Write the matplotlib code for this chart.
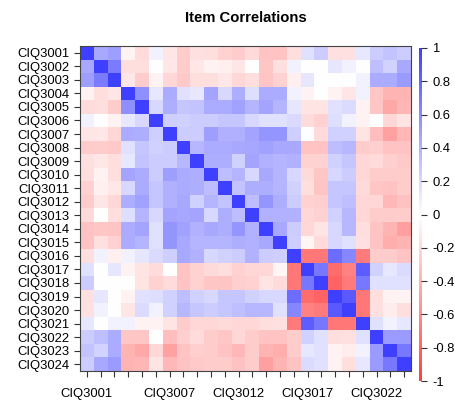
import numpy as np
import matplotlib
matplotlib.use("Agg")
import matplotlib.pyplot as plt
from matplotlib.colors import LinearSegmentedColormap

plt.rcParams["font.family"] = ["Liberation Sans", "DejaVu Sans"]

items = ["CIQ3001", "CIQ3002", "CIQ3003", "CIQ3004", "CIQ3005", "CIQ3006",
         "CIQ3007", "CIQ3008", "CIQ3009", "CIQ3010", "CIQ3011", "CIQ3012",
         "CIQ3013", "CIQ3014", "CIQ3015", "CIQ3016", "CIQ3017", "CIQ3018",
         "CIQ3019", "CIQ3020", "CIQ3021", "CIQ3022", "CIQ3023", "CIQ3024"]

# upper triangle of the correlation matrix: row i holds r(i, j) for j > i
upper_rows = [
    [.45, .50, -.07, -.18, .07, -.13, -.26, -.16, -.17, -.24, -.26, -.19, -.31, -.31, -.17, .16, .26, -.16, -.16, .12, .26, .31, .26],
    [.68, -.17, -.17, .00, -.12, -.26, -.12, -.07, -.08, -.13, .00, -.29, -.16, .07, .00, .00, .13, .07, .00, .33, .23, .45],
    [-.13, -.26, -.07, -.21, -.28, -.17, -.17, -.12, -.21, -.17, -.30, -.24, -.08, .13, .00, .00, .00, .07, .43, .43, .52],
    [.58, .12, .43, .15, .12, .47, .20, .42, .17, .43, .43, .07, -.07, .00, -.07, -.13, .07, -.29, -.39, -.39],
    [.21, .42, .29, .31, .43, .43, .49, .39, .47, .39, .13, -.14, -.14, .15, .18, -.07, -.29, -.45, -.38],
    [.25, .24, .26, .26, .30, .30, .21, .16, .16, .19, -.18, -.24, .17, .07, -.07, .00, -.21, -.14],
    [.26, .26, .50, .41, .41, .47, .55, .55, .25, .00, -.18, .24, .24, -.14, -.34, -.49, -.37],
    [.37, .43, .43, .45, .46, .49, .45, .45, -.31, -.31, .34, .37, -.26, -.25, -.31, -.31],
    [.42, .42, .24, .47, .40, .39, .40, -.23, -.23, .24, .29, -.21, -.18, -.25, -.28],
    [.34, .39, .21, .45, .39, .21, -.19, -.29, .21, .26, -.21, -.26, -.26, -.26],
    [.31, .42, .42, .39, .24, -.17, -.30, .29, .30, -.19, -.29, -.31, -.26],
    [.34, .55, .42, .26, -.24, -.25, .30, .33, -.21, -.21, -.37, -.32],
    [.40, .40, .40, -.21, -.24, .24, .37, -.21, -.26, -.26, -.26],
    [.45, .26, -.21, -.14, .21, .37, -.17, -.31, -.39, -.50],
    [.25, -.05, -.18, .21, .16, -.16, -.31, -.42, -.39],
    [-.71, -.71, .76, .63, -.68, -.26, -.26, -.31],
    [.71, -.76, -.65, .84, .24, .12, .18],
    [-.81, -.68, .71, .16, .16, .16],
    [.86, -.71, -.17, -.07, -.07],
    [-.71, -.16, -.10, -.17],
    [.16, .07, .12],
    [.52, .52],
    [.71],
]

x_label_items = ["CIQ3001", "CIQ3007", "CIQ3012", "CIQ3017", "CIQ3022"]
bar_ticks = [1, 0.8, 0.6, 0.4, 0.2, 0, -0.2, -0.4, -0.6, -0.8, -1]
bar_labels = ["1", "0.8", "0.6", "0.4", "0.2", "0", "-0.2", "-0.4", "-0.6", "-0.8", "-1"]

n = len(items)
corr = np.eye(n)
for i, row in enumerate(upper_rows):
    corr[i, i + 1:] = row
    corr[i + 1:, i] = row

cmap = LinearSegmentedColormap.from_list(
    "red_white_blue", [(1.0, 0.25, 0.25), (1.0, 1.0, 1.0), (0.25, 0.25, 1.0)])

W, H = 456, 405
fig = plt.figure(figsize=(W / 100, H / 100), dpi=100)
fig.patch.set_facecolor("white")

def box(x0, y0, x1, y1):
    return [x0 / W, 1 - y1 / H, (x1 - x0) / W, (y1 - y0) / H]

ax = fig.add_axes(box(80, 46, 411, 371))
ax.imshow(corr, cmap=cmap, vmin=-1, vmax=1, aspect="auto",
          interpolation="nearest")

fs = 9.4
ax.set_yticks(range(n))
ax.set_yticklabels(items, fontsize=fs)
ax.set_xticks(range(n))
ax.set_xticklabels([it if it in x_label_items else "" for it in items],
                   fontsize=fs)
ax.tick_params(axis="y", length=4.3, width=0.8, color="#333333", pad=3)
ax.tick_params(axis="x", length=4.3, width=0.8, color="#333333", pad=8)
for s in ax.spines.values():
    s.set_color("#444444")
    s.set_linewidth(0.8)

fig.text(246 / W, 1 - 18 / H, "Item Correlations", ha="center", va="center",
         fontsize=10.7, fontweight="bold")

# colour key: a thin gradient strip with its scale on the right
cax = fig.add_axes(box(418.8, 48, 421.2, 381))
grad = np.linspace(-1, 1, 256).reshape(-1, 1)
cax.imshow(grad, cmap=cmap, vmin=-1, vmax=1, aspect="auto", origin="lower",
           extent=(0, 1, -1, 1), interpolation="bilinear")
cax.set_xticks([])
cax.yaxis.tick_right()
cax.set_yticks(bar_ticks)
cax.set_yticklabels(bar_labels, fontsize=fs)
cax.set_ylim(-1, 1)
cax.tick_params(axis="y", length=4.3, width=0.8, color="#333333", pad=3.5)
for s in cax.spines.values():
    s.set_visible(False)

fig.savefig("out.png", dpi=100, facecolor="white")
